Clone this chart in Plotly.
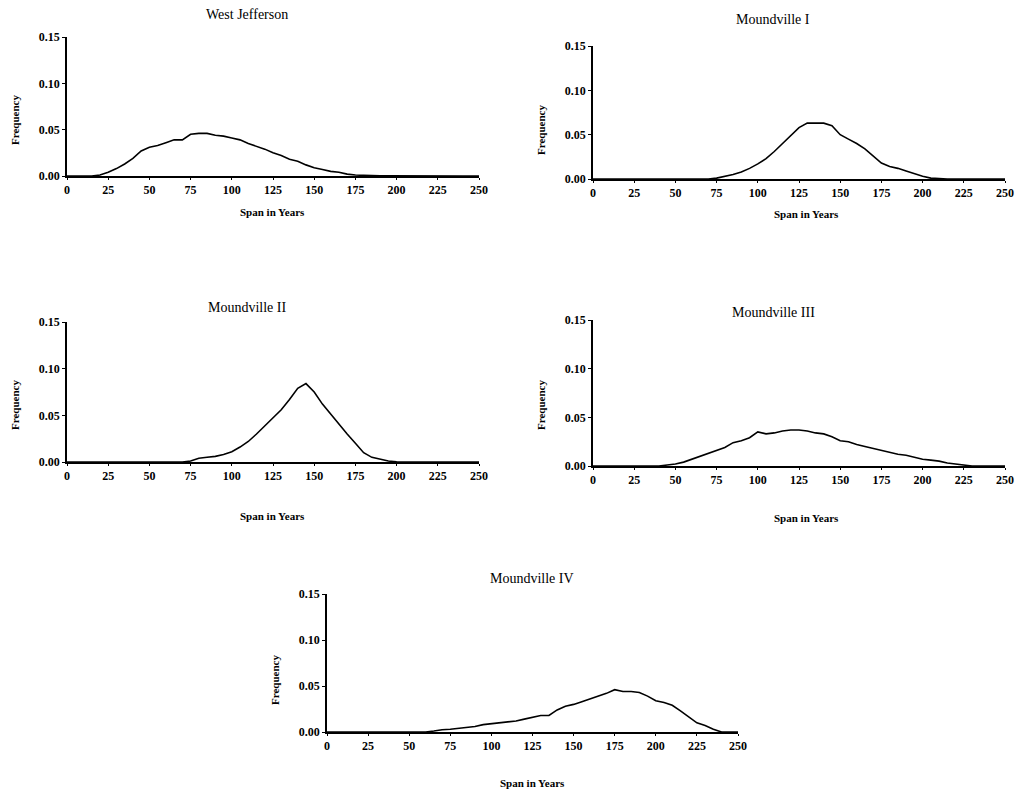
import plotly.graph_objects as go

span = list(range(0, 251, 5))

west_jefferson = [0, 0, 0, 0, 0.001, 0.004, 0.008, 0.013, 0.019, 0.027, 0.031, 0.033, 0.036, 0.039, 0.039,
                  0.045, 0.046, 0.046, 0.044, 0.043, 0.041, 0.039, 0.035, 0.032, 0.029, 0.025, 0.022, 0.018,
                  0.016, 0.012, 0.009, 0.007, 0.005, 0.004, 0.002, 0.001, 0.0005, 0.0003, 0.0002, 0.0001,
                  0, 0, 0, 0, 0, 0, 0, 0, 0, 0, 0]
moundville_1 = [0, 0, 0, 0, 0, 0, 0, 0, 0, 0, 0, 0, 0, 0, 0, 0.001, 0.003, 0.005, 0.008, 0.012, 0.017, 0.023,
                0.031, 0.040, 0.049, 0.058, 0.063, 0.063, 0.063, 0.060, 0.050, 0.045, 0.040, 0.034, 0.026,
                0.018, 0.014, 0.012, 0.009, 0.006, 0.003, 0.001, 0.0003, 0, 0, 0, 0, 0, 0, 0, 0]
moundville_2 = [0, 0, 0, 0, 0, 0, 0, 0, 0, 0, 0, 0, 0, 0, 0, 0.001, 0.004, 0.005, 0.006, 0.008, 0.011, 0.016,
                0.022, 0.030, 0.039, 0.048, 0.056, 0.067, 0.079, 0.084, 0.075, 0.062, 0.051, 0.040, 0.030,
                0.020, 0.010, 0.005, 0.003, 0.001, 0.0003, 0, 0, 0, 0, 0, 0, 0, 0, 0, 0]
moundville_3 = [0, 0, 0, 0, 0, 0, 0, 0, 0, 0.001, 0.002, 0.004, 0.007, 0.010, 0.013, 0.016, 0.019, 0.024,
                0.026, 0.029, 0.035, 0.033, 0.034, 0.036, 0.037, 0.037, 0.036, 0.034, 0.033, 0.030, 0.026,
                0.025, 0.022, 0.020, 0.018, 0.016, 0.014, 0.012, 0.011, 0.009, 0.007, 0.006, 0.005, 0.003,
                0.002, 0.001, 0, 0, 0, 0, 0]
moundville_4 = [0, 0, 0, 0, 0, 0, 0, 0, 0, 0, 0, 0, 0, 0.001, 0.0025, 0.003, 0.004, 0.005, 0.006, 0.008,
                0.009, 0.010, 0.011, 0.012, 0.014, 0.016, 0.018, 0.018, 0.024, 0.028, 0.030, 0.033, 0.036,
                0.039, 0.042, 0.046, 0.044, 0.044, 0.043, 0.039, 0.034, 0.032, 0.029, 0.023, 0.016, 0.010,
                0.007, 0.003, 0, 0, 0]

titles = ["West Jefferson", "Moundville I", "Moundville II", "Moundville III", "Moundville IV"]
series = [west_jefferson, moundville_1, moundville_2, moundville_3, moundville_4]
x_ticks = [0, 25, 50, 75, 100, 125, 150, 175, 200, 225, 250]
y_ticks = [0.0, 0.05, 0.10, 0.15]
y_tick_text = ["0.00", "0.05", "0.10", "0.15"]

W, H = 1025, 797
# pixel boxes: (left, right, top, bottom)
boxes = [(67, 479, 37, 176), (593, 1005, 46, 179), (67, 479, 322, 462),
         (593, 1005, 320, 466), (327, 738, 594, 732)]
title_pos = [(247, 15), (773, 20), (247, 307), (773, 312), (532, 578)]
xlab_pos = [(272, 212), (806, 214), (272, 516), (806, 518), (532, 783)]
ylab_pos = [(15, 120), (541, 130), (15, 405), (541, 405), (275, 680)]

SERIF = "Liberation Serif"
fig = go.Figure()
annotations = []
for i, (name, vals) in enumerate(zip(titles, series)):
    l, r, t, b = boxes[i]
    xa = "xaxis" if i == 0 else f"xaxis{i+1}"
    ya = "yaxis" if i == 0 else f"yaxis{i+1}"
    xref = "x" if i == 0 else f"x{i+1}"
    yref = "y" if i == 0 else f"y{i+1}"
    fig.add_trace(go.Scatter(x=span, y=vals, mode="lines", line=dict(color="black", width=1.6),
                             xaxis=xref, yaxis=yref, showlegend=False, cliponaxis=True))
    fig.update_layout(**{
        xa: dict(domain=[l / W, r / W], anchor=yref, range=[0, 250], tickvals=x_ticks,
                 showgrid=False, zeroline=False, showline=True, linecolor="black", linewidth=1.5,
                 ticks="outside", ticklen=2, tickcolor="black", automargin=False,
                 tickfont=dict(family=SERIF, size=12, color="black", weight="bold")),
        ya: dict(domain=[1 - b / H, 1 - t / H], anchor=xref, range=[0, 0.15], tickvals=y_ticks,
                 ticktext=y_tick_text, showgrid=False, zeroline=False, showline=True,
                 linecolor="black", linewidth=1.5, ticks="outside", ticklen=3, tickcolor="black",
                 automargin=False,
                 tickfont=dict(family=SERIF, size=12, color="black", weight="bold")),
    })
    tx, ty = title_pos[i]
    annotations.append(dict(text=name, x=tx / W, y=1 - ty / H, xref="paper", yref="paper",
                            showarrow=False, font=dict(family=SERIF, size=14, color="black"),
                            xanchor="center", yanchor="middle"))
    lx, ly = xlab_pos[i]
    annotations.append(dict(text="Span in Years", x=lx / W, y=1 - ly / H, xref="paper", yref="paper",
                            showarrow=False, font=dict(family=SERIF, size=11, color="black", weight="bold"),
                            xanchor="center", yanchor="middle"))
    vx, vy = ylab_pos[i]
    annotations.append(dict(text="Frequency", x=vx / W, y=1 - vy / H, xref="paper", yref="paper",
                            showarrow=False, textangle=-90,
                            font=dict(family=SERIF, size=11, color="black", weight="bold"),
                            xanchor="center", yanchor="middle"))

fig.update_layout(width=W, height=H, margin=dict(l=0, r=0, t=0, b=0, autoexpand=False),
                  paper_bgcolor="white", plot_bgcolor="white", annotations=annotations)
fig.write_html("out.html", config={"displayModeBar": False},
               post_script="document.body.style.margin='0';document.body.style.overflow='hidden';"
                           "document.documentElement.style.overflow='hidden';")
